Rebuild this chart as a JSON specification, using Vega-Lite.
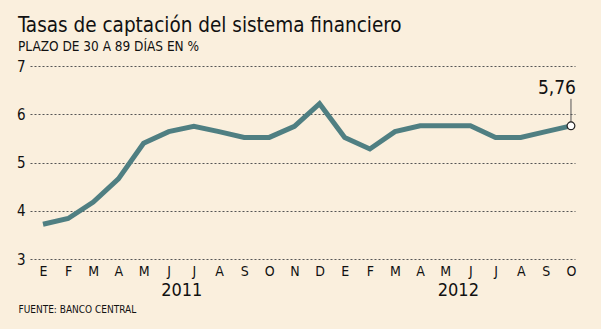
{
  "$schema": "https://vega.github.io/schema/vega-lite/v6.json",
  "width": 545,
  "height": 193,
  "autosize": {"type": "none"},
  "padding": {"left": 30, "top": 66, "right": 26, "bottom": 70},
  "background": "#FAEFDD",
  "title": {
    "text": "Tasas de captación del sistema financiero",
    "subtitle": "PLAZO DE 30 A 89 DÍAS EN %",
    "anchor": "start",
    "frame": "group",
    "dx": -12,
    "offset": 6,
    "font": "DejaVu Sans Condensed",
    "fontSize": 20.5,
    "fontWeight": "normal",
    "color": "#111111",
    "subtitleFont": "DejaVu Sans Condensed",
    "subtitleFontSize": 13.5,
    "subtitleColor": "#111111",
    "subtitlePadding": 3
  },
  "config": {"view": {"stroke": null}},
  "data": {
    "values": [
      {"i": 0, "m": "E", "v": 3.72},
      {"i": 1, "m": "F", "v": 3.84},
      {"i": 2, "m": "M", "v": 4.18},
      {"i": 3, "m": "A", "v": 4.66},
      {"i": 4, "m": "M", "v": 5.40},
      {"i": 5, "m": "J", "v": 5.64},
      {"i": 6, "m": "J", "v": 5.75},
      {"i": 7, "m": "A", "v": 5.64},
      {"i": 8, "m": "S", "v": 5.52},
      {"i": 9, "m": "O", "v": 5.52},
      {"i": 10, "m": "N", "v": 5.75},
      {"i": 11, "m": "D", "v": 6.22},
      {"i": 12, "m": "E", "v": 5.52},
      {"i": 13, "m": "F", "v": 5.28},
      {"i": 14, "m": "M", "v": 5.64},
      {"i": 15, "m": "A", "v": 5.76},
      {"i": 16, "m": "M", "v": 5.76},
      {"i": 17, "m": "J", "v": 5.76},
      {"i": 18, "m": "J", "v": 5.52},
      {"i": 19, "m": "A", "v": 5.52},
      {"i": 20, "m": "S", "v": 5.64},
      {"i": 21, "m": "O", "v": 5.76, "label": "5,76"}
    ]
  },
  "resolve": {"axis": {"x": "independent"}},
  "layer": [
    {
      "mark": {"type": "line", "color": "#4F7F82", "strokeWidth": 5, "strokeJoin": "miter"},
      "encoding": {
        "x": {
          "field": "i", "type": "quantitative",
          "scale": {"domain": [-0.517, 21.16], "nice": false, "zero": false},
          "axis": {
            "orient": "bottom",
            "values": [0,1,2,3,4,5,6,7,8,9,10,11,12,13,14,15,16,17,18,19,20,21],
            "labelExpr": "['E','F','M','A','M','J','J','A','S','O','N','D'][datum.value % 12]",
            "domain": false, "ticks": false, "grid": false,
            "labelPadding": 5, "labelFont": "DejaVu Sans Condensed", "labelFontSize": 14,
            "labelColor": "#111111", "labelFlush": false, "labelOverlap": false, "title": null
          }
        },
        "y": {
          "field": "v", "type": "quantitative",
          "scale": {"domain": [3, 7], "nice": false, "zero": false},
          "axis": {
            "values": [3,4,5,6,7],
            "domain": false, "ticks": false, "grid": true,
            "gridDash": [2, 2], "gridColor": "#555555", "gridWidth": 1,
            "labelPadding": 5, "labelFont": "DejaVu Sans Condensed", "labelFontSize": 15,
            "labelColor": "#111111", "labelFlush": false, "title": null
          }
        }
      }
    },
    {
      "transform": [{"filter": "datum.i == 21"}],
      "mark": {"type": "rule", "color": "#555555", "strokeWidth": 1},
      "encoding": {
        "x": {
          "field": "i", "type": "quantitative",
          "scale": {"domain": [-0.517, 21.16], "nice": false, "zero": false},
          "axis": {
            "orient": "bottom",
            "values": [5.5, 16.5],
            "labelExpr": "datum.value < 10 ? '2011' : '2012'",
            "domain": false, "ticks": false, "grid": false,
            "offset": 17,
            "labelPadding": 5, "labelFont": "DejaVu Sans Condensed", "labelFontSize": 18,
            "labelColor": "#111111", "labelFlush": false,
            "title": "FUENTE: BANCO CENTRAL",
            "titleAnchor": "start", "titleAlign": "left", "titleX": -12, "titleY": 28,
            "titleFont": "DejaVu Sans Condensed", "titleFontSize": 10, "titleFontWeight": "normal",
            "titleColor": "#111111"
          }
        },
        "y": {"field": "v", "type": "quantitative"},
        "y2": {"datum": 6.32}
      }
    },
    {
      "transform": [{"filter": "datum.i == 21"}],
      "mark": {"type": "point", "filled": true, "fill": "#FFFFFF", "stroke": "#222222", "strokeWidth": 1.2, "size": 60, "opacity": 1},
      "encoding": {
        "x": {"field": "i", "type": "quantitative", "axis": null},
        "y": {"field": "v", "type": "quantitative"}
      }
    },
    {
      "transform": [{"filter": "datum.i == 21"}],
      "mark": {"type": "text", "align": "right", "baseline": "alphabetic", "dx": 5, "dy": -32, "font": "DejaVu Sans Condensed", "fontSize": 19, "color": "#111111"},
      "encoding": {
        "x": {"field": "i", "type": "quantitative", "axis": null},
        "y": {"field": "v", "type": "quantitative"},
        "text": {"field": "label"}
      }
    }
  ]
}
